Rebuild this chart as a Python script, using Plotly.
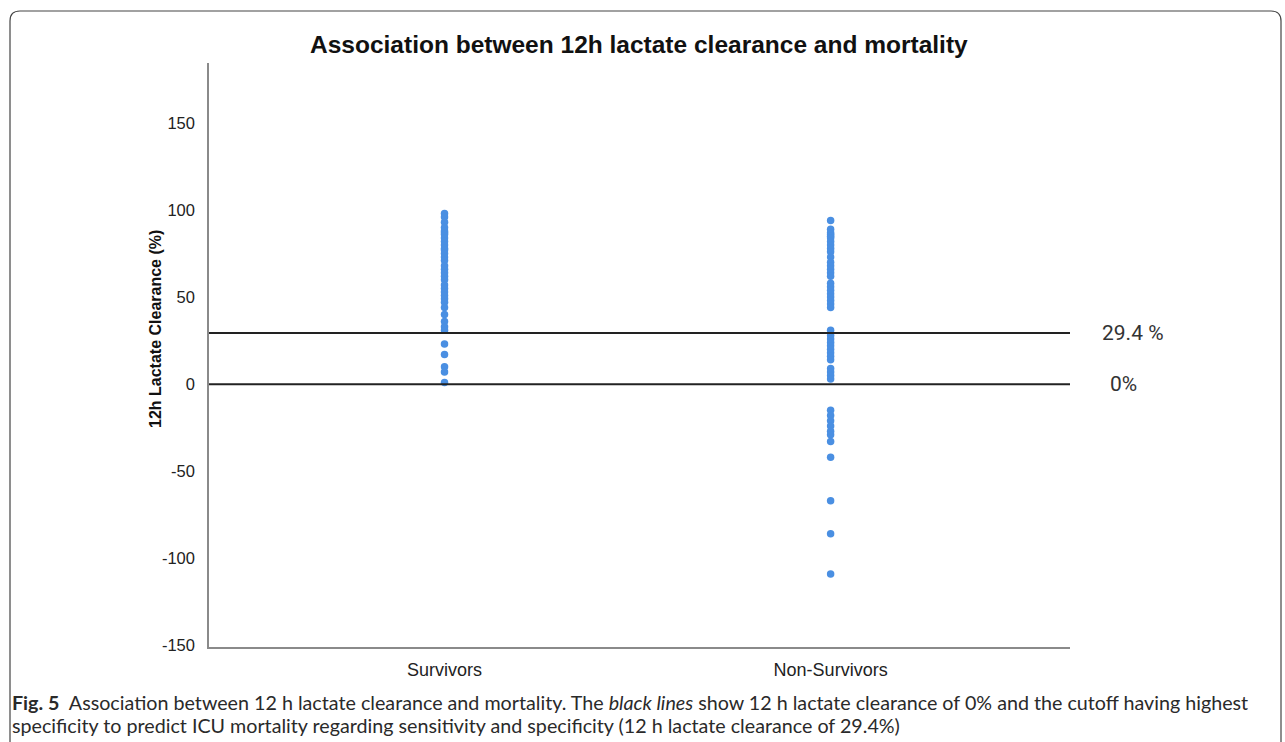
import plotly.graph_objects as go

categories = ["Survivors", "Non-Survivors"]
survivors = [98, 96, 93, 90, 88, 87, 86, 84, 82, 80, 78, 77, 75, 73, 71, 68, 66, 64,
             62, 60, 57, 55, 53, 51, 49, 47, 44, 40, 36, 33, 31, 23, 17, 10, 7, 1]
non_survivors = [94, 89, 87, 86, 85, 84, 82, 80, 78, 76, 73, 70, 68, 66, 64, 62, 58, 56,
                 54, 52, 50, 48, 46, 44, 31, 28, 26, 24, 22, 20, 18, 16, 14, 9, 7, 5, 3,
                 -15, -18, -21, -24, -27, -29, -33, -42, -67, -86, -109]
ref_lines = [29.4, 0]
ref_labels = ["29.4 %", "0%"]
y_ticks = [-150, -100, -50, 0, 50, 100, 150]
y_tick_text = [str(v) for v in y_ticks]

W, H = 1285, 742
L, R, T, B = 209, 1070, 63, 647

def px(x):
    return (x - L) / (R - L)

def py(y):
    return (B - y) / (B - T)

fig = go.Figure()
fig.add_trace(go.Scatter(
    x=[categories[0]] * len(survivors) + [categories[1]] * len(non_survivors),
    y=survivors + non_survivors,
    mode="markers",
    marker=dict(color="#4a8fe2", size=7.5, line=dict(width=0)),
    showlegend=False, hoverinfo="y",
))

label_left_px = [1100, 1108]
for v, lab, lx in zip(ref_lines, ref_labels, label_left_px):
    fig.add_shape(type="line", xref="paper", yref="y", x0=0, x1=1, y0=v, y1=v,
                  line=dict(color="#222222", width=2))
    fig.add_annotation(xref="paper", yref="y", x=px(lx), y=v, text=lab,
                       showarrow=False, xanchor="left", yanchor="middle",
                       font=dict(family="Roboto", size=21, color="#333333"))

# title
fig.add_annotation(xref="paper", yref="paper", x=px(639), y=py(45),
                   text="<b>Association between 12h lactate clearance and mortality</b>",
                   showarrow=False, xanchor="center", yanchor="middle",
                   font=dict(family="Liberation Sans", size=24.5, color="#111111"))
# y title
fig.add_annotation(xref="paper", yref="paper", x=px(155), y=py(329),
                   text="<b>12h Lactate Clearance (%)</b>", textangle=-90,
                   showarrow=False, xanchor="center", yanchor="middle",
                   font=dict(family="Liberation Sans", size=16, color="#111111"))
# caption
cap1 = ("<b>Fig. 5</b>  Association between 12 h lactate clearance and mortality. The "
        "<i>black lines</i> show 12 h lactate clearance of 0% and the cutoff having highest")
cap2 = ("specificity to predict ICU mortality regarding sensitivity and specificity "
        "(12 h lactate clearance of 29.4%)")
fig.add_annotation(xref="paper", yref="paper", x=px(10), y=py(702), text=cap1,
                   showarrow=False, xanchor="left", yanchor="middle",
                   font=dict(family="Lato", size=19.7, color="#2a2a2a"))
fig.add_annotation(xref="paper", yref="paper", x=px(10), y=py(725), text=cap2,
                   showarrow=False, xanchor="left", yanchor="middle",
                   font=dict(family="Lato", size=19.7, color="#2a2a2a"))

# rounded border
x0, x1, y0, y1, r = 10, 1281, 11, 745, 10
path = (f"M {px(x0)},{py(y1)} L {px(x0)},{py(y0 + r)} Q {px(x0)},{py(y0)} {px(x0 + r)},{py(y0)} "
        f"L {px(x1 - r)},{py(y0)} Q {px(x1)},{py(y0)} {px(x1)},{py(y0 + r)} L {px(x1)},{py(y1)}")
fig.add_shape(type="path", xref="paper", yref="paper", path=path,
              line=dict(color="#444444", width=1.2))

fig.update_layout(
    width=W, height=H,
    margin=dict(l=L, r=W - R, t=T, b=H - B),
    paper_bgcolor="white", plot_bgcolor="white",
    xaxis=dict(type="category", categoryorder="array", categoryarray=categories,
               range=[-0.61, 1.62], showgrid=False, zeroline=False,
               showline=True, linecolor="#8a8a8a", linewidth=1.5, ticks="",
               ticklabelstandoff=6,
               tickfont=dict(family="Liberation Sans", size=18, color="#222222")),
    yaxis=dict(range=[-151, 184.5], tickvals=y_ticks, ticktext=y_tick_text,
               showgrid=False, zeroline=False,
               showline=True, linecolor="#8a8a8a", linewidth=1.5, ticks="",
               ticklabelstandoff=9,
               tickfont=dict(family="Liberation Sans", size=16.5, color="#222222")),
)

fig.write_html("out.html", config={"displayModeBar": False},
               post_script="document.body.style.margin='0';")
